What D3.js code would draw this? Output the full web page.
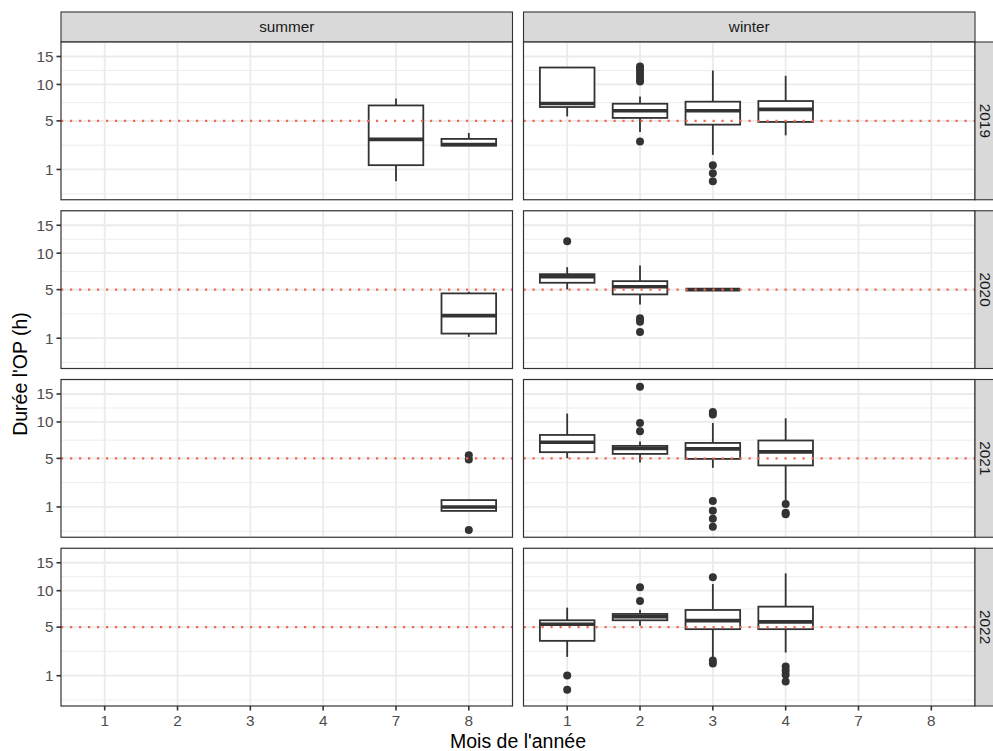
<!DOCTYPE html>
<html>
<head>
<meta charset="utf-8">
<script src="https://cdn.jsdelivr.net/npm/d3@7"></script>
<style>
  body { margin: 0; background: #fff; }
  svg { display: block; }
  text { font-family: "Liberation Sans", Arial, Helvetica, sans-serif; }
</style>
</head>
<body>
<svg id="chart" width="993" height="751"></svg>
<script>
// Facet rows (years), facet columns (seasons) and the discrete month axis
const years = ["2019", "2020", "2021", "2022"];
const seasons = ["summer", "winter"];
const months = ["1", "2", "3", "4", "7", "8"];
const yTicks = [1, 5, 10, 15];
const threshold = 5;

// One entry per box: facet, month and its five summary statistics (hours)
const boxYear   = ["2019","2019","2019","2019","2019","2019","2020","2020","2020","2020","2021","2021","2021","2021","2021","2022","2022","2022","2022"];
const boxSeason = ["summer","summer","winter","winter","winter","winter","summer","winter","winter","winter","summer","winter","winter","winter","winter","winter","winter","winter","winter"];
const boxMonth  = ["7","8","1","2","3","4","8","1","2","3","8","1","2","3","4","1","2","3","4"];
const lowerWhisker = [0.49, 2.58, 5.52, 3.82, 1.88, 3.49, 1.07, 5.02, 3.46, 5.00, 0.81, 5.02, 4.55, 3.98, 1.34, 2.19, 5.17, 2.10, 2.53];
const lowerHinge   = [1.23, 2.58, 6.70, 5.34, 4.58, 4.88, 1.25, 5.81, 4.47, 5.00, 0.81, 5.73, 5.52, 4.94, 4.23, 3.56, 5.81, 4.77, 4.77];
const medians      = [3.12, 2.67, 7.18, 6.22, 6.22, 6.39, 2.48, 6.57, 5.34, 5.00, 1.00, 7.01, 6.19, 6.14, 5.77, 5.34, 6.26, 5.77, 5.61];
const upperHinge   = [6.91, 3.16, 12.91, 7.14, 7.42, 7.51, 4.58, 6.91, 6.01, 5.00, 1.38, 8.02, 6.52, 6.91, 7.24, 5.81, 6.61, 7.14, 7.60];
const upperWhisker = [7.88, 3.72, 12.91, 8.17, 12.37, 11.44, 4.77, 7.88, 8.12, 5.00, 1.38, 11.39, 7.10, 9.84, 10.6, 7.46, 7.18, 11.1, 12.98];
const outliers = [
  [], [], [],
  [2.92, 10.5, 10.9, 11.4, 12.0, 12.6, 13.1],
  [1.23, 0.82, 0.49],
  [], [],
  [12.01],
  [2.27, 2.02, 1.34],
  [],
  [5.37, 4.88, 0.17],
  [],
  [16.48, 9.84, 8.56],
  [11.66, 11.22, 1.33, 0.82, 0.49, 0.25],
  [1.16, 0.73, 0.66],
  [1.01, 0.41],
  [10.55, 8.41],
  [12.26, 1.92, 1.72],
  [1.52, 1.28, 1.05, 0.73]
];

const boxes = boxYear.map((yr, i) => ({
  year: yr, season: boxSeason[i], month: boxMonth[i],
  lo: lowerWhisker[i], q1: lowerHinge[i], med: medians[i],
  q3: upperHinge[i], hi: upperWhisker[i], out: outliers[i]
}));

// Layout
const panelLeft = 61, panelTop = 42, panelW = 451.5, panelH = 157.75, gap = 11, stripSize = 30;
const ink = "#333333", gridCol = "#EBEBEB";
const tickFont = 15.3, titleFont = 19.5;

const svg = d3.select("#chart");
svg.append("rect").attr("width", 993).attr("height", 751).attr("fill", "#fff");

// Shared y scale on a square-root axis, expanded by 5% in transformed space
const allVals = boxes.flatMap(b => [b.lo, b.hi, ...b.out]);
const sLo = Math.sqrt(d3.min(allVals)), sHi = Math.sqrt(d3.max(allVals));
const pad = 0.05 * (sHi - sLo);
const yScale = d3.scaleSqrt()
  .domain([Math.pow(sLo - pad, 2), Math.pow(sHi + pad, 2)])
  .range([panelH, 0]);

// Minor breaks: midpoints of the major breaks in sqrt space
const sT = yTicks.map(Math.sqrt);
const sMinor = [sT[0] - (sT[1] - sT[0]) / 2];
for (let i = 0; i < sT.length - 1; i++) sMinor.push((sT[i] + sT[i + 1]) / 2);
sMinor.push(sT[sT.length - 1] + (sT[sT.length - 1] - sT[sT.length - 2]) / 2);
const minorTicks = sMinor.filter(s => s >= sLo - pad && s <= sHi + pad).map(s => s * s);

const xScale = d3.scalePoint().domain(months).range([0, panelW]).padding(0.6);
const boxW = xScale.step() * 0.75;

seasons.forEach((season, c) => {
  const px = panelLeft + c * (panelW + gap);

  // column strip
  const st = svg.append("g").attr("transform", `translate(${px},${panelTop - stripSize})`);
  st.append("rect").attr("width", panelW).attr("height", stripSize)
    .attr("fill", "#D9D9D9").attr("stroke", ink).attr("stroke-width", 1.1);
  st.append("text").attr("x", panelW / 2).attr("y", stripSize / 2).attr("dy", "0.35em")
    .attr("text-anchor", "middle").attr("font-size", tickFont).attr("fill", "#1A1A1A").text(season);

  years.forEach((year, r) => {
    const py = panelTop + r * (panelH + gap);
    const g = svg.append("g").attr("transform", `translate(${px},${py})`);

    g.append("rect").attr("width", panelW).attr("height", panelH).attr("fill", "#fff");

    // grid
    g.append("g").selectAll("line").data(minorTicks).join("line")
      .attr("x1", 0).attr("x2", panelW).attr("y1", d => yScale(d)).attr("y2", d => yScale(d))
      .attr("stroke", gridCol).attr("stroke-width", 0.9);
    g.append("g").selectAll("line").data(yTicks).join("line")
      .attr("x1", 0).attr("x2", panelW).attr("y1", d => yScale(d)).attr("y2", d => yScale(d))
      .attr("stroke", gridCol).attr("stroke-width", 1.8);
    g.append("g").selectAll("line").data(months).join("line")
      .attr("x1", d => xScale(d)).attr("x2", d => xScale(d)).attr("y1", 0).attr("y2", panelH)
      .attr("stroke", gridCol).attr("stroke-width", 1.8);

    // boxplots
    const data = boxes.filter(b => b.year === year && b.season === season);
    data.forEach(b => {
      const cx = xScale(b.month);
      const bg = g.append("g");
      bg.append("line").attr("x1", cx).attr("x2", cx).attr("y1", yScale(b.hi)).attr("y2", yScale(b.q3))
        .attr("stroke", ink).attr("stroke-width", 1.8);
      bg.append("line").attr("x1", cx).attr("x2", cx).attr("y1", yScale(b.q1)).attr("y2", yScale(b.lo))
        .attr("stroke", ink).attr("stroke-width", 1.8);
      bg.append("rect").attr("x", cx - boxW / 2).attr("width", boxW)
        .attr("y", yScale(b.q3)).attr("height", Math.max(0, yScale(b.q1) - yScale(b.q3)))
        .attr("fill", "#fff").attr("stroke", ink).attr("stroke-width", 1.8);
      bg.append("line").attr("x1", cx - boxW / 2).attr("x2", cx + boxW / 2)
        .attr("y1", yScale(b.med)).attr("y2", yScale(b.med))
        .attr("stroke", ink).attr("stroke-width", 3.6);
      bg.selectAll("circle").data(b.out).join("circle")
        .attr("cx", cx).attr("cy", d => yScale(d)).attr("r", 4).attr("fill", ink);
    });

    // reference line
    g.append("line").attr("x1", 0).attr("x2", panelW)
      .attr("y1", yScale(threshold)).attr("y2", yScale(threshold))
      .attr("stroke", "#F8654F").attr("stroke-width", 2.2)
      .attr("stroke-dasharray", "2.2,6.8");

    // border
    g.append("rect").attr("width", panelW).attr("height", panelH)
      .attr("fill", "none").attr("stroke", ink).attr("stroke-width", 1.2);

    // y axis on first column
    if (c === 0) {
      const ax = svg.append("g").attr("transform", `translate(${px},${py})`);
      ax.selectAll("line").data(yTicks).join("line")
        .attr("x1", -4.5).attr("x2", 0).attr("y1", d => yScale(d)).attr("y2", d => yScale(d))
        .attr("stroke", ink).attr("stroke-width", 1.6);
      ax.selectAll("text").data(yTicks).join("text")
        .attr("x", -7.5).attr("y", d => yScale(d)).attr("dy", "0.35em")
        .attr("text-anchor", "end").attr("font-size", tickFont).attr("fill", "#4D4D4D")
        .text(d => d);
    }

    // x axis on bottom row
    if (r === years.length - 1) {
      const ax = svg.append("g").attr("transform", `translate(${px},${py + panelH})`);
      ax.selectAll("line").data(months).join("line")
        .attr("x1", d => xScale(d)).attr("x2", d => xScale(d)).attr("y1", 0).attr("y2", 4.5)
        .attr("stroke", ink).attr("stroke-width", 1.6);
      ax.selectAll("text").data(months).join("text")
        .attr("x", d => xScale(d)).attr("y", 9.5).attr("dy", "0.71em")
        .attr("text-anchor", "middle").attr("font-size", tickFont).attr("fill", "#4D4D4D")
        .text(d => d);
    }

    // row strip on last column
    if (c === seasons.length - 1) {
      const sx = px + panelW;
      const rs = svg.append("g").attr("transform", `translate(${sx},${py})`);
      rs.append("rect").attr("width", stripSize).attr("height", panelH)
        .attr("fill", "#D9D9D9").attr("stroke", ink).attr("stroke-width", 1.1);
      rs.append("text")
        .attr("transform", `translate(10,${panelH / 2}) rotate(90)`)
        .attr("dy", "0.35em").attr("text-anchor", "middle")
        .attr("font-size", tickFont).attr("fill", "#1A1A1A").text(year);
    }
  });
});

// axis titles
const plotBottom = panelTop + years.length * panelH + (years.length - 1) * gap;
svg.append("text")
  .attr("x", panelLeft + (2 * panelW + gap) / 2).attr("y", 748)
  .attr("text-anchor", "middle").attr("font-size", titleFont).attr("fill", "#000")
  .text("Mois de l'année");
svg.append("text")
  .attr("transform", `translate(27,${(panelTop + plotBottom) / 2}) rotate(-90)`)
  .attr("text-anchor", "middle").attr("font-size", titleFont).attr("fill", "#000")
  .text("Durée l'OP (h)");
</script>
</body>
</html>
